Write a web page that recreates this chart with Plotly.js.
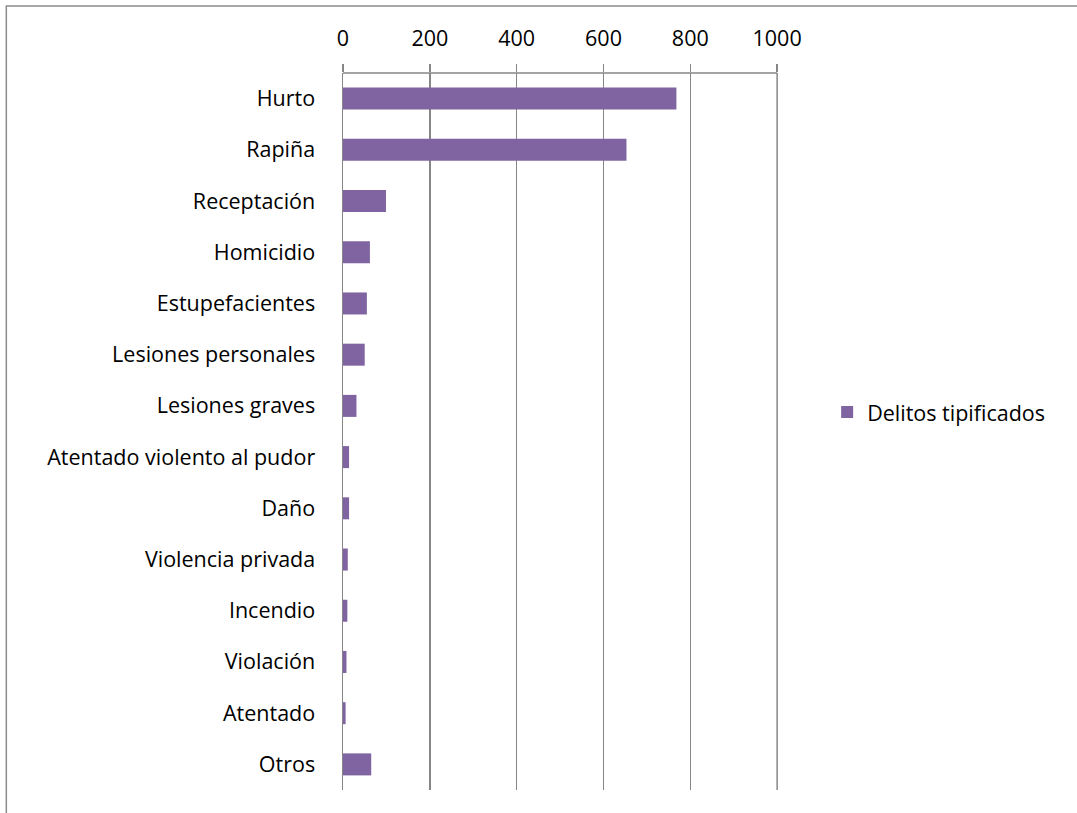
<!DOCTYPE html>
<html>
<head>
<meta charset="utf-8">
<script src="https://cdn.plot.ly/plotly-3.0.1.min.js"></script>
<style>
html,body{margin:0;padding:0;background:#fff;}
#chart{width:1077px;height:813px;}
</style>
</head>
<body>
<div id="chart"></div>
<script>
const categories = ["Hurto","Rapiña","Receptación","Homicidio","Estupefacientes","Lesiones personales","Lesiones graves","Atentado violento al pudor","Daño","Violencia privada","Incendio","Violación","Atentado","Otros"];
const values = [768, 653, 99, 62, 55, 50, 31, 14, 14, 11, 10, 8, 6, 65];
const seriesName = "Delitos tipificados";
const xTicks = [0, 200, 400, 600, 800, 1000];

const gridColor = "#868686";
const fontFam = "'Open Sans', Lato, sans-serif";
const fs = 21.5;

const trace = {
  type: "bar",
  orientation: "h",
  x: values,
  y: categories,
  name: seriesName,
  marker: {color: "#8064A2"},
  showlegend: true,
  hoverinfo: "x+y"
};

const layout = {
  width: 1077,
  height: 813,
  margin: {l: 343, r: 299, t: 73, b: 23, pad: 0},
  paper_bgcolor: "#ffffff",
  plot_bgcolor: "#ffffff",
  bargap: 0.57,
  font: {family: fontFam, size: fs, color: "#000000"},
  xaxis: {
    side: "top",
    range: [0, 1002],
    tickvals: xTicks,
    ticktext: xTicks.map(String),
    showgrid: true,
    gridcolor: gridColor,
    gridwidth: 1.5,
    showline: false,
    ticks: "outside",
    ticklen: 8,
    tickcolor: gridColor,
    tickwidth: 1.5,
    ticklabelstandoff: 9,
    zeroline: false,
    tickfont: {family: fontFam, size: fs, color: "#000"}
  },
  yaxis: {
    autorange: "reversed",
    type: "category",
    showline: true,
    linecolor: gridColor,
    linewidth: 1.5,
    ticks: "",
    showgrid: false,
    zeroline: false,
    ticklabelstandoff: 22,
    tickfont: {family: fontFam, size: fs, color: "#000"}
  },
  showlegend: true,
  legend: {
    x: 1.113,
    y: 0.527,
    xanchor: "left",
    yanchor: "middle",
    font: {family: fontFam, size: fs, color: "#000"},
    bgcolor: "rgba(0,0,0,0)"
  },
  shapes: [{
    type: "rect",
    xref: "paper", yref: "paper",
    x0: -0.774, x1: 1.8,
    y0: -0.2, y1: 1.0934,
    line: {color: "#8c8c8c", width: 1.5},
    fillcolor: "rgba(0,0,0,0)",
    layer: "below"
  }, {
    type: "line",
    xref: "x", yref: "paper",
    x0: 0, x1: 1000,
    y0: 1, y1: 1,
    line: {color: gridColor, width: 1.5},
    layer: "above"
  }, {
    type: "line",
    xref: "x", yref: "paper",
    x0: 1000, x1: 1000,
    y0: 0, y1: 1,
    line: {color: gridColor, width: 1.5},
    layer: "below"
  }]
};

Plotly.newPlot("chart", [trace], layout, {displayModeBar: false, staticPlot: true});
</script>
</body>
</html>
